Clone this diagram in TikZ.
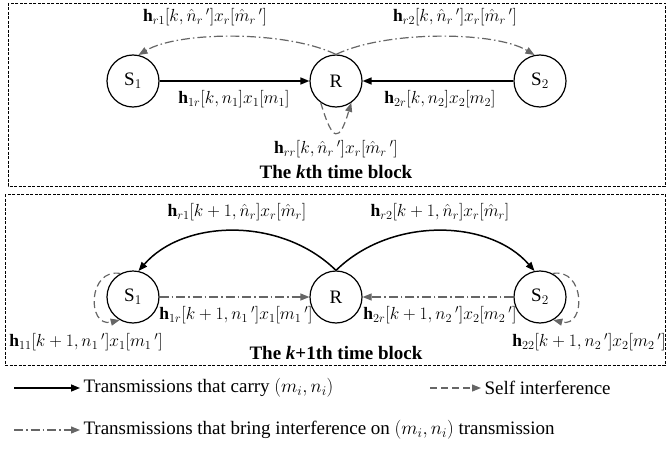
\RequirePackage{fix-cm}
\documentclass[tikz,border=0pt]{standalone}
\usepackage{fontspec}
\setmainfont{Liberation Serif}
\usetikzlibrary{arrows.meta}
\newcommand{\spr}{\,{}'}

\begin{document}
\begin{tikzpicture}[x=1pt,y=-1pt,
    every node/.style={font=\fontsize{19}{23}\selectfont},
    lbl/.style={font=\fontsize{17.5}{21}\selectfont, inner sep=1pt},
    term/.style={draw, circle, line width=1.2pt, minimum size=52pt, inner sep=0pt},
    carry/.style={line width=1.5pt, -{Triangle[length=9pt,width=7pt]}},
    interf/.style={gray!80!black, line width=1.2pt, dash pattern=on 9pt off 3pt on 1.5pt off 3pt,
      -{Triangle[length=9pt,width=7pt]}},
    selfi/.style={gray!80!black, line width=1.2pt, dash pattern=on 7pt off 4pt,
      -{Triangle[length=9pt,width=7pt]}},
    blockbox/.style={line width=0.7pt, dash pattern=on 3pt off 1.5pt}]
  \useasboundingbox (0,0) rectangle (669,452);

  % the kth time block
  \draw[blockbox] (8,3) rectangle (665,186);
  \node[term] (S1) at (133,81) {S$_1$};
  \node[term] (R)  at (336,81) {R};
  \node[term] (S2) at (540,81) {S$_2$};

  \draw[carry] (S1) -- (R);
  \draw[carry] (S2) -- (R);
  \draw[interf] (R.north) .. controls +(-50,-24) and +(40,-24) .. (S1.78);
  \draw[interf] (R.north) .. controls +(50,-24) and +(-40,-24) .. (S2.102);
  \draw[selfi] (R.235) .. controls +(12,40) and +(-12,40) .. (R.305);

  \node[lbl] (hr1) at (205,17) {$\mathbf{h}_{r1}[k,\hat{n}_r\spr]x_r[\hat{m}_r\spr]$};
  \node[lbl] (hr2) at (455,17) {$\mathbf{h}_{r2}[k,\hat{n}_r\spr]x_r[\hat{m}_r\spr]$};
  \node[lbl] (h1r) at (234,99) {$\mathbf{h}_{1r}[k,n_1]x_1[m_1]$};
  \node[lbl] (h2r) at (440,99) {$\mathbf{h}_{2r}[k,n_2]x_2[m_2]$};
  \node[lbl] (hrr) at (336,149) {$\mathbf{h}_{rr}[k,\hat{n}_r\spr]x_r[\hat{m}_r\spr]$};
  \node (blk1) at (336,172) {\textbf{The \textit{k}th time block}};

  % the (k+1)th time block
  \draw[blockbox] (5,194) rectangle (665,365);
  \node[term] (T1) at (133,297) {S$_1$};
  \node[term] (Q)  at (336,297) {R};
  \node[term] (T2) at (540,297) {S$_2$};

  \draw[interf] (T1) -- (Q);
  \draw[interf] (T2) -- (Q);
  \draw[carry] (Q.north) .. controls +(-55,-54) and +(45,-52) .. (T1.78);
  \draw[carry] (Q.north) .. controls +(55,-54) and +(-45,-52) .. (T2.102);
  \draw[selfi] (T1.118) .. controls +(-33,-6) and +(-33,8) .. (T1.240);
  \draw[selfi] (T2.62) .. controls +(33,-6) and +(33,8) .. (T2.300);

  \node[lbl] (gr1) at (237,212) {$\mathbf{h}_{r1}[k+1,\hat{n}_r]x_r[\hat{m}_r]$};
  \node[lbl] (gr2) at (440,212) {$\mathbf{h}_{r2}[k+1,\hat{n}_r]x_r[\hat{m}_r]$};
  \node[lbl] (g1r) at (236,315) {$\mathbf{h}_{1r}[k+1,n_1\spr]x_1[m_1\spr]$};
  \node[lbl] (g2r) at (440,315) {$\mathbf{h}_{2r}[k+1,n_2\spr]x_2[m_2\spr]$};
  \node[lbl] (g11) at (86,342) {$\mathbf{h}_{11}[k+1,n_1\spr]x_1[m_1\spr]$};
  \node[lbl] (g22) at (589,342) {$\mathbf{h}_{22}[k+1,n_2\spr]x_2[m_2\spr]$};
  \node (blk2) at (336,353) {\textbf{The \textit{k}+1th time block}};

  % legend
  \coordinate (l1) at (14,388);
  \coordinate (l2) at (430,388);
  \coordinate (l3) at (14,430);
  \node[anchor=west] (txt1) at (80,388) {Transmissions that carry $(m_i,n_i)$};
  \node[anchor=west] (txt2) at (481,388) {Self interference};
  \node[anchor=west] (txt3) at (80,430) {Transmissions that bring interference on $(m_i,n_i)$ transmission};
  \draw[carry] (l1) -- (txt1.west);
  \draw[selfi] (l2) -- (txt2.west);
  \draw[interf] (l3) -- (txt3.west);
\end{tikzpicture}
\end{document}
